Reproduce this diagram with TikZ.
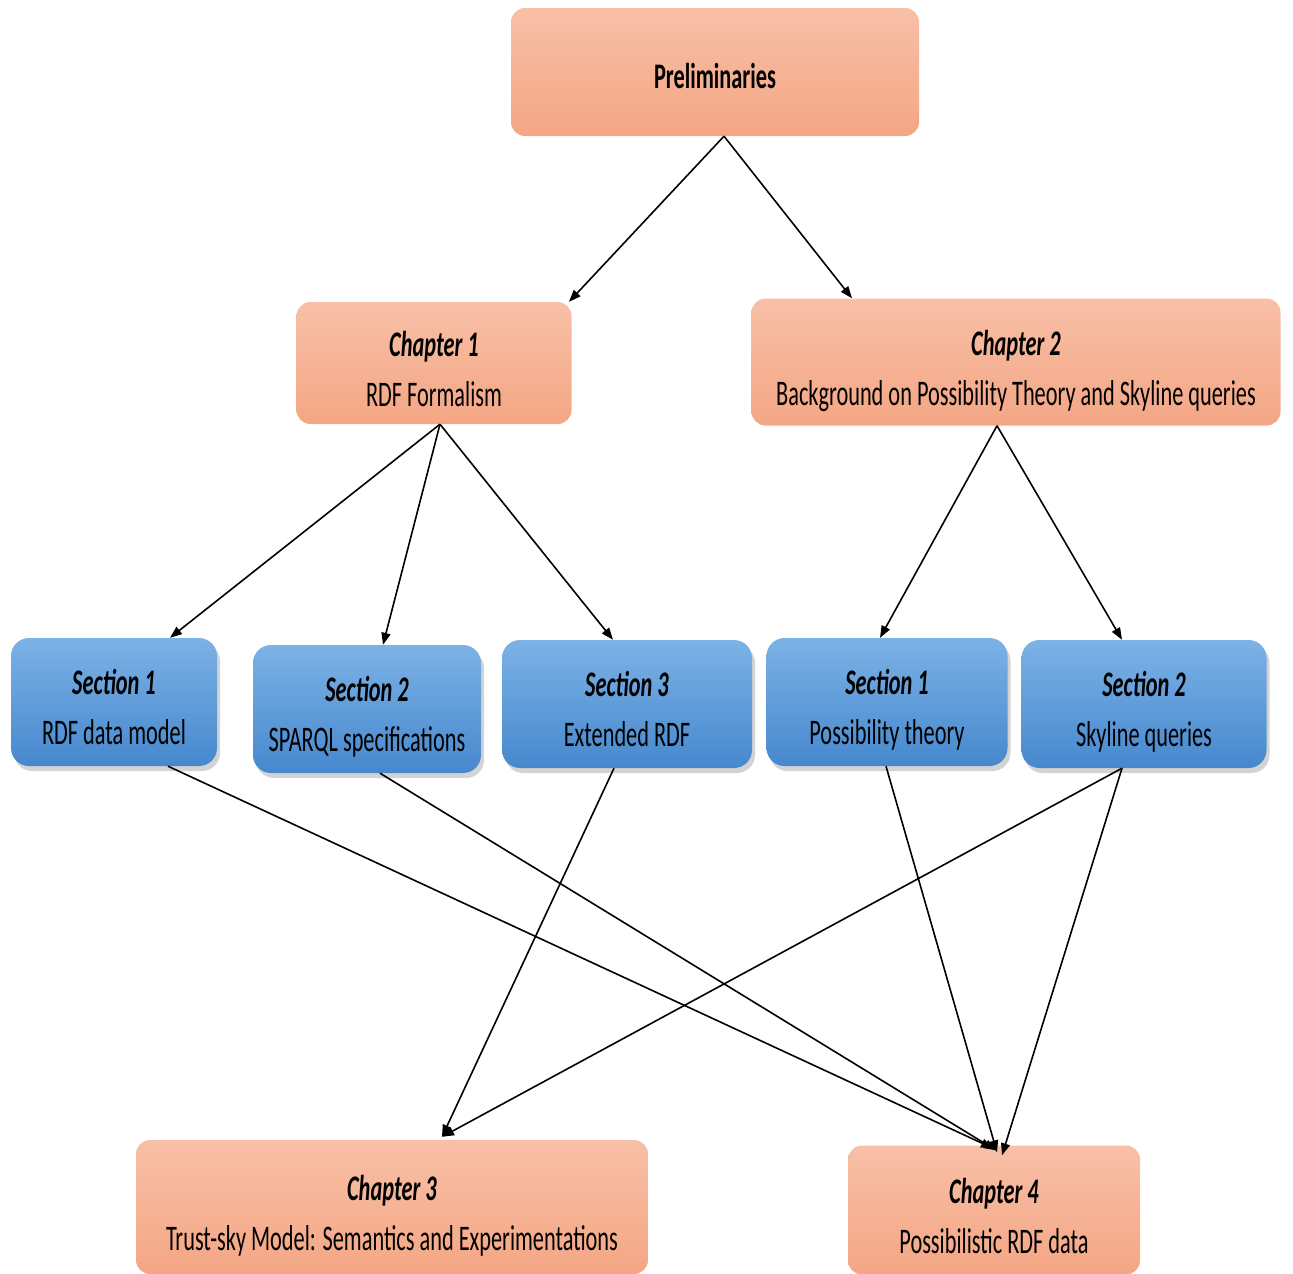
\documentclass[tikz,border=0pt]{standalone}
\usepackage{fontspec}
\setmainfont{Carlito}[FakeStretch=0.62]
\usepackage{tikz}
\usetikzlibrary{arrows.meta,shadows}

\definecolor{salmontop}{RGB}{248,192,167}
\definecolor{salmonbot}{RGB}{244,166,132}
\definecolor{bluetop}{RGB}{124,178,230}
\definecolor{bluebot}{RGB}{70,136,206}

\begin{document}
\begin{tikzpicture}[x=1pt,y=-1pt,
    chapbox/.style={rounded corners=14pt,top color=salmontop,bottom color=salmonbot,draw=none,align=center,
      font=\fontsize{36}{50}\selectfont,inner sep=0pt,text height=86pt,text depth=0pt},
    secbox/.style={rounded corners=18pt,top color=bluetop,bottom color=bluebot,draw=none,align=center,
      font=\fontsize{36}{50}\selectfont,inner sep=0pt,text height=84pt,text depth=0pt,
      drop shadow={opacity=0.35,shadow xshift=3pt,shadow yshift=-5pt}},
    link/.style={line width=1.6pt,-{Triangle[length=12pt,width=9pt]}}]
  \useasboundingbox (0,0) rectangle (1293,1274);

  \node[chapbox,text height=32pt,minimum width=408pt,minimum height=128pt] (pre) at (715,72) {\textbf{Preliminaries}};
  \node[chapbox,minimum width=275pt,minimum height=122pt] (ch1) at (434,363) {\textbf{\textit{Chapter 1}}\\RDF Formalism};
  \node[chapbox,minimum width=529pt,minimum height=127pt] (ch2) at (1016,362) {\textbf{\textit{Chapter 2}}\\Background on Possibility Theory and Skyline queries};

  \node[secbox,minimum width=206pt,minimum height=128pt] (sec1) at (114,702) {\textbf{\textit{Section 1}}\\RDF data model};
  \node[secbox,minimum width=228pt,minimum height=128pt] (sec2) at (367,709) {\textbf{\textit{Section 2}}\\SPARQL specifications};
  \node[secbox,minimum width=250pt,minimum height=128pt] (sec3) at (627,704) {\textbf{\textit{Section 3}}\\Extended RDF};
  \node[secbox,minimum width=241pt,minimum height=128pt] (pos1) at (887,702) {\textbf{\textit{Section 1}}\\Possibility theory};
  \node[secbox,minimum width=245pt,minimum height=128pt] (pos2) at (1144,704) {\textbf{\textit{Section 2}}\\Skyline queries};

  \node[chapbox,minimum width=512pt,minimum height=134pt] (ch3) at (392,1207) {\textbf{\textit{Chapter 3}}\\Trust-sky Model: Semantics and Experimentations};
  \node[chapbox,minimum width=292pt,minimum height=129pt] (ch4) at (994,1210) {\textbf{\textit{Chapter 4}}\\Possibilistic RDF data};

  \draw[link] ([xshift=9pt]pre.south) -- ([xshift=135pt]ch1.north);
  \draw[link] ([xshift=9pt]pre.south) -- ([xshift=-164pt]ch2.north);

  \draw[link] ([xshift=6pt]ch1.south) -- ([xshift=56pt]sec1.north);
  \draw[link] ([xshift=6pt]ch1.south) -- ([xshift=16pt]sec2.north);
  \draw[link] ([xshift=6pt]ch1.south) -- ([xshift=-14pt]sec3.north);
  \draw[link] ([xshift=-19pt]ch2.south) -- ([xshift=-7pt]pos1.north);
  \draw[link] ([xshift=-19pt]ch2.south) -- ([xshift=-22pt]pos2.north);

  \draw[link] ([xshift=54pt]sec1.south) -- ([xshift=-1pt,yshift=-3pt]ch4.north);
  \draw[link] ([xshift=13pt]sec2.south) -- ([xshift=2pt,yshift=-5pt]ch4.north);
  \draw[link] ([xshift=-13pt]sec3.south) -- ([xshift=50pt,yshift=3pt]ch3.north);
  \draw[link] ([xshift=-1pt]pos1.south) -- ([xshift=3pt,yshift=-7pt]ch4.north);
  \draw[link] ([xshift=-22pt]pos2.south) -- ([xshift=50pt,yshift=3pt]ch3.north);
  \draw[link] ([xshift=-22pt]pos2.south) -- ([xshift=8pt,yshift=-10pt]ch4.north);
\end{tikzpicture}
\end{document}
